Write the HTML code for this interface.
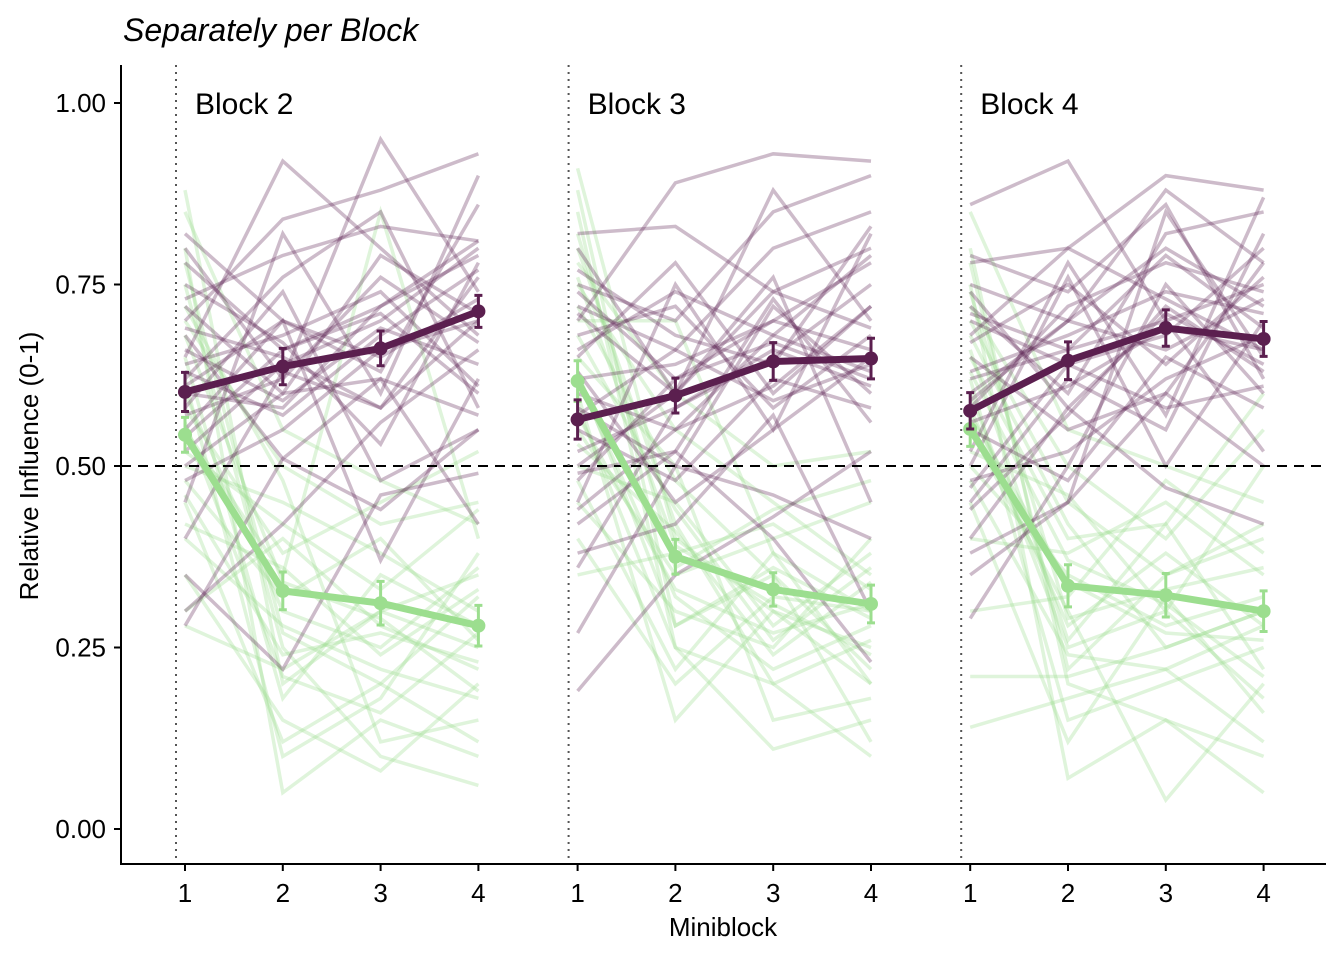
<!DOCTYPE html>
<html><head><meta charset="utf-8">
<style>
html,body{margin:0;padding:0;background:#fff;}
svg{display:block;font-family:"Liberation Sans",Arial,sans-serif;}
</style></head>
<body>
<svg id="chart" width="1344" height="960" viewBox="0 0 1344 960" xmlns="http://www.w3.org/2000/svg">
<text x="123" y="41" font-size="32" font-style="italic" fill="#000">Separately per Block</text>
<g id="plot"></g>
<line x1="121" y1="65" x2="121" y2="865" stroke="#000" stroke-width="2"/>
<line x1="120" y1="864" x2="1326" y2="864" stroke="#000" stroke-width="2"/>
<g id="yticks"></g>
<g id="xticks"></g>
<text x="723" y="936" font-size="26" text-anchor="middle">Miniblock</text>
<text transform="translate(38,466) rotate(-90)" font-size="26" text-anchor="middle">Relative Influence (0-1)</text>
</svg>
<script>
const blockLabels=["Block 2","Block 3","Block 4"];
const miniblocks=[1,2,3,4];
const yTicks=[0,0.25,0.5,0.75,1];
const yTickLabels=["0.00","0.25","0.50","0.75","1.00"];
const meanPurple=[[.602,.637,.662,.713],[.564,.597,.644,.648],[.576,.645,.690,.675]];
const meanGreen=[[.543,.328,.311,.280],[.617,.375,.330,.310],[.551,.335,.322,.300]];
const sePurple=[[.027,.025,.024,.022],[.027,.024,.026,.028],[.025,.026,.025,.024]];
const seGreen=[[.024,.026,.03,.028],[.028,.024,.023,.026],[.024,.029,.03,.028]];
const indivPurple=[
[[.65,.92,.80,.68],[.80,.62,.95,.74],[.70,.84,.88,.93],[.60,.58,.72,.81],[.55,.70,.37,.62],[.45,.82,.60,.90],[.75,.67,.53,.78],[.30,.42,.56,.66],[.62,.76,.85,.58],[.68,.51,.62,.42],[.52,.64,.70,.80],[.35,.22,.46,.49],[.72,.60,.79,.71],[.58,.74,.48,.55],[.82,.70,.63,.86],[.48,.55,.66,.70],[.64,.68,.74,.61],[.40,.63,.58,.76],[.28,.51,.44,.55],[.66,.59,.69,.64],[.78,.66,.72,.79],[.61,.70,.65,.73],[.57,.62,.76,.67],[.69,.65,.58,.70],[.73,.79,.83,.81],[.50,.60,.62,.57],[.63,.57,.68,.77],[.54,.66,.71,.60]],
[[.82,.83,.74,.80],[.70,.89,.93,.92],[.45,.75,.55,.82],[.60,.55,.68,.63],[.38,.42,.57,.30],[.75,.70,.85,.90],[.55,.48,.62,.58],[.19,.35,.43,.52],[.65,.78,.60,.72],[.50,.60,.76,.45],[.80,.60,.88,.70],[.42,.52,.40,.23],[.72,.66,.80,.85],[.58,.50,.72,.60],[.48,.62,.70,.78],[.63,.45,.55,.65],[.68,.72,.58,.68],[.36,.58,.65,.75],[.27,.50,.46,.40],[.77,.68,.64,.83],[.62,.64,.70,.66],[.52,.58,.66,.61],[.71,.60,.74,.69],[.44,.55,.61,.72],[.66,.74,.68,.79],[.57,.66,.59,.64],[.49,.52,.73,.56],[.74,.62,.67,.62]],
[[.86,.92,.70,.75],[.78,.80,.90,.88],[.60,.70,.80,.72],[.35,.45,.85,.65],[.65,.55,.60,.78],[.50,.76,.50,.70],[.29,.50,.75,.60],[.72,.60,.82,.85],[.55,.48,.65,.58],[.68,.80,.73,.66],[.45,.62,.55,.82],[.40,.58,.47,.42],[.75,.70,.88,.78],[.62,.66,.70,.52],[.48,.52,.62,.68],[.58,.72,.78,.74],[.70,.64,.68,.80],[.38,.45,.60,.50],[.79,.74,.86,.62],[.52,.78,.57,.87],[.63,.68,.74,.71],[.56,.61,.69,.66],[.67,.75,.64,.76],[.44,.57,.72,.63],[.71,.66,.79,.69],[.59,.70,.66,.73],[.47,.64,.58,.61],[.74,.58,.71,.64]]];
const indivGreen=[
[[.88,.20,.30,.25],[.80,.05,.15,.10],[.55,.35,.85,.40],[.70,.50,.42,.45],[.45,.12,.20,.12],[.60,.30,.25,.36],[.30,.40,.28,.22],[.75,.25,.10,.06],[.50,.45,.38,.30],[.65,.18,.35,.28],[.40,.28,.22,.18],[.85,.55,.48,.42],[.35,.15,.08,.20],[.58,.38,.45,.52],[.28,.22,.30,.35],[.72,.48,.12,.15],[.48,.32,.40,.26],[.62,.10,.18,.38],[.52,.42,.33,.44],[.78,.27,.20,.32],[.46,.24,.27,.23],[.68,.34,.29,.19],[.56,.21,.16,.27],[.42,.36,.24,.33]],
[[.91,.40,.30,.20],[.85,.25,.11,.15],[.75,.55,.45,.35],[.60,.15,.30,.25],[.80,.42,.20,.10],[.55,.35,.40,.45],[.70,.70,.38,.30],[.45,.30,.25,.40],[.65,.50,.15,.18],[.88,.28,.35,.22],[.50,.45,.28,.38],[.40,.20,.32,.30],[.78,.60,.50,.52],[.62,.32,.22,.28],[.35,.38,.42,.33],[.72,.48,.35,.12],[.58,.25,.20,.26],[.82,.36,.44,.48],[.68,.44,.26,.36],[.48,.22,.38,.20],[.57,.33,.27,.31],[.76,.39,.31,.24],[.63,.28,.36,.29],[.53,.41,.24,.34]],
[[.80,.20,.15,.10],[.75,.07,.15,.05],[.65,.40,.42,.60],[.21,.21,.25,.30],[.55,.30,.04,.20],[.70,.45,.35,.40],[.14,.18,.22,.12],[.60,.25,.30,.18],[.85,.55,.50,.45],[.50,.35,.28,.32],[.62,.15,.20,.25],[.40,.38,.45,.35],[.72,.50,.40,.55],[.58,.28,.38,.28],[.45,.12,.32,.16],[.68,.42,.25,.30],[.30,.32,.48,.38],[.78,.22,.35,.42],[.52,.46,.30,.50],[.66,.26,.42,.22],[.57,.34,.27,.26],[.74,.29,.33,.36],[.48,.24,.22,.28],[.63,.37,.31,.21]]];

const NS="http://www.w3.org/2000/svg";
const PURPLE="#5B1F4F", GREEN="#9CDE8F";
function y(v){return 829-v*(829-103);}
function x(b,m){return 185+b*392.6+(m-1)*97.8;}
function mk(tag,attrs,parent){const e=document.createElementNS(NS,tag);for(const k in attrs)e.setAttribute(k,attrs[k]);parent.appendChild(e);return e;}
const plot=document.getElementById('plot');
const yt=document.getElementById('yticks');
const xt=document.getElementById('xticks');

yTicks.forEach((v,i)=>{
  const l=mk('line',{x1:114,x2:121,y1:y(v),y2:y(v),stroke:'#000','stroke-width':2},yt);
  
  
  const t=mk('text',{x:106,y:y(v)+9,'font-size':26,'text-anchor':'end'},yt);
  t.textContent=yTickLabels[i];
  
  
});
for(let b=0;b<3;b++){
  miniblocks.forEach(m=>{
    const l=mk('line',{x1:x(b,m),x2:x(b,m),y1:864,y2:871,stroke:'#000','stroke-width':2},xt);
    
    
    const t=mk('text',{x:x(b,m),y:902,'font-size':26,'text-anchor':'middle'},xt);
    t.textContent=m;
    
    
  });
}
for(let b=0;b<3;b++){
  indivGreen[b].forEach(s=>{
    const p=mk('polyline',{points:s.map((v,i)=>x(b,miniblocks[i])+','+y(v)).join(' '),fill:'none',stroke:GREEN,'stroke-opacity':0.32,'stroke-width':3.5},plot);
    
    
  });
  indivPurple[b].forEach(s=>{
    const p=mk('polyline',{points:s.map((v,i)=>x(b,miniblocks[i])+','+y(v)).join(' '),fill:'none',stroke:PURPLE,'stroke-opacity':0.3,'stroke-width':3.5},plot);
    
    
  });
}
const dl=mk('line',{x1:121,x2:1326,y1:y(0.5),y2:y(0.5),stroke:'#000','stroke-width':2,'stroke-dasharray':'10,7'},plot);


for(let b=0;b<3;b++){
  const bx=176+b*392.6;
  const v=mk('line',{x1:bx,x2:bx,y1:65,y2:864,stroke:'#555','stroke-width':2,'stroke-dasharray':'2,5'},plot);
  
  
  const t=mk('text',{x:bx+19,y:114,'font-size':30},plot);
  t.textContent=blockLabels[b];
  
  
}
function drawMean(means,ses,col,name){
  for(let b=0;b<3;b++){
    const p=mk('polyline',{points:means[b].map((v,i)=>x(b,miniblocks[i])+','+y(v)).join(' '),fill:'none',stroke:col,'stroke-width':7,'stroke-linejoin':'round'},plot);
    
    
    means[b].forEach((v,i)=>{
      const cx=x(b,miniblocks[i]),lo=y(v-ses[b][i]),hi=y(v+ses[b][i]);
      const g=mk('path',{d:`M${cx},${lo}V${hi}M${cx-4},${lo}H${cx+4}M${cx-4},${hi}H${cx+4}`,stroke:col,'stroke-width':3,fill:'none'},plot);
      
      
      const c=mk('circle',{cx:cx,cy:y(v),r:7,fill:col},plot);
      
      
    });
  }
}
drawMean(meanGreen,seGreen,GREEN,'green');
drawMean(meanPurple,sePurple,PURPLE,'purple');
</script>
</body></html>
